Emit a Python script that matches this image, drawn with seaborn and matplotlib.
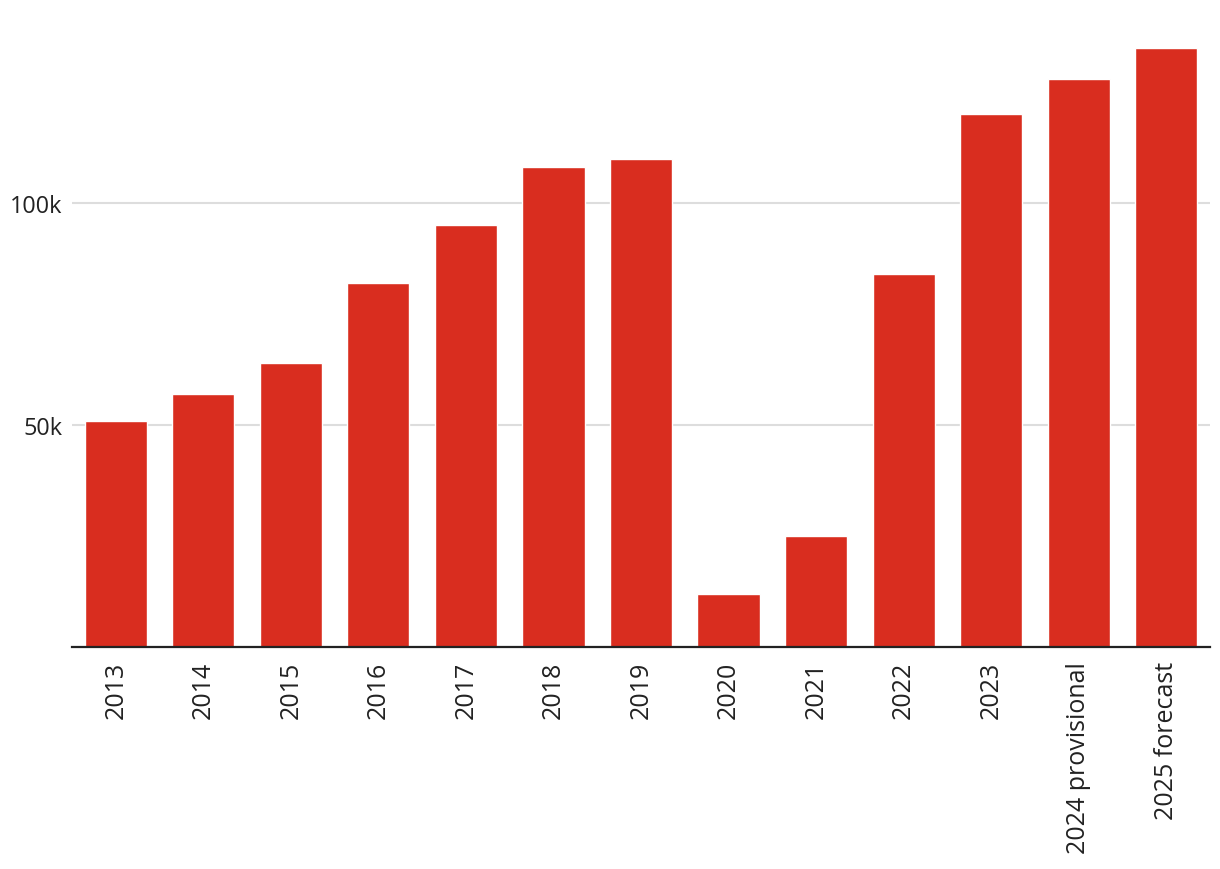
import matplotlib
matplotlib.use("Agg")
import matplotlib.pyplot as plt
import seaborn as sns
import pandas as pd

categories = ["2013", "2014", "2015", "2016", "2017", "2018", "2019", "2020",
              "2021", "2022", "2023", "2024 provisional", "2025 forecast"]
values = [51000, 57000, 64000, 82000, 95000, 108000, 110000, 12000,
          25000, 84000, 120000, 128000, 135000]
ytick_vals = [50000, 100000]
ytick_labels = ["50k", "100k"]

sns.set_theme(style="white")
plt.rcParams['font.family'] = ['Open Sans', 'DejaVu Sans']

df = pd.DataFrame({"cat": categories, "val": values})

W, H = 1220, 870
fig = plt.figure(figsize=(W / 100, H / 100), dpi=100)
ymax = 140000
px_per_unit = 222 / 50000
top_px = 648 - ymax * px_per_unit
ax = fig.add_axes([72 / W, (H - 648) / H, (1210 - 72) / W, (648 - top_px) / H])

sns.barplot(data=df, x="cat", y="val", color="#D92D1F", saturation=1,
            width=0.71, ax=ax, zorder=3)

ax.set_xlim(-0.5, len(categories) - 0.5)
ax.set_ylim(0, ymax)
ax.set_yticks(ytick_vals)
ax.set_yticklabels(ytick_labels, fontsize=16.8, color="#222222")
ax.yaxis.grid(True, color="#dddddd", linewidth=1.5, zorder=0)
ax.xaxis.grid(False)
ax.tick_params(axis="y", length=0, pad=7)
ax.tick_params(axis="x", length=0, pad=10)
plt.setp(ax.get_xticklabels(), rotation=90, fontsize=18, color="#222222")
for s in ["top", "right", "left"]:
    ax.spines[s].set_visible(False)
ax.spines["bottom"].set_color("#222222")
ax.spines["bottom"].set_linewidth(1.6)
ax.spines["bottom"].set_zorder(5)
ax.set_xlabel("")
ax.set_ylabel("")

fig.savefig("out.png", dpi=100)
